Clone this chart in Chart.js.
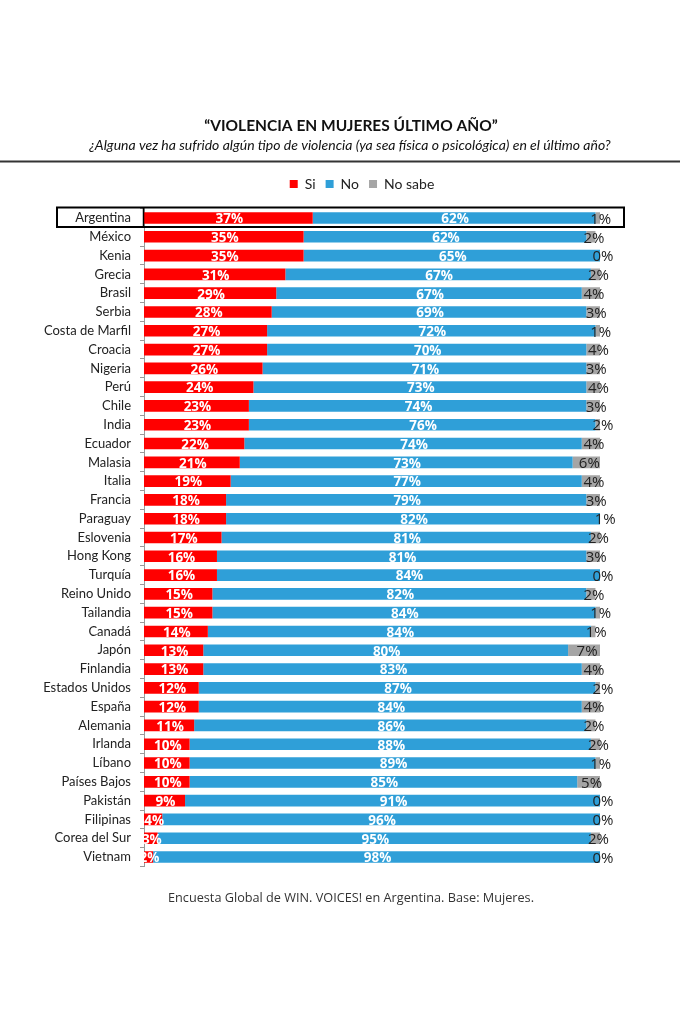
<!DOCTYPE html>
<html>
<head>
<meta charset="utf-8">
<script src="https://cdn.jsdelivr.net/npm/chart.js@4/dist/chart.umd.min.js"></script>
<style>
html,body{margin:0;padding:0;background:#fff;}
#wrap{width:680px;height:1024px;position:relative;}
</style>
</head>
<body>
<div id="wrap"><canvas id="c" width="680" height="1024"></canvas></div>
<script>
const countries = ['Argentina','México','Kenia','Grecia','Brasil','Serbia','Costa de Marfil','Croacia','Nigeria','Perú','Chile','India','Ecuador','Malasia','Italia','Francia','Paraguay','Eslovenia','Hong Kong','Turquía','Reino Unido','Tailandia','Canadá','Japón','Finlandia','Estados Unidos','España','Alemania','Irlanda','Líbano','Países Bajos','Pakistán','Filipinas','Corea del Sur','Vietnam'];
const si     = [37,35,35,31,29,28,27,27,26,24,23,23,22,21,19,18,18,17,16,16,15,15,14,13,13,12,12,11,10,10,10,9,4,3,2];
const no     = [62,62,65,67,67,69,72,70,71,73,74,76,74,73,77,79,82,81,81,84,82,84,84,80,83,87,84,86,88,89,85,91,96,95,98];
const noSabe = [1,2,0,2,4,3,1,4,3,4,3,2,4,6,4,3,1,2,3,0,2,1,1,7,4,2,4,2,2,1,5,0,0,2,0];
const seriesNames = ['Si','No','No sabe'];
const seriesColors = ['#FF0000','#2F9FD8','#A5A5A5'];
const labelColors = ['#FFFFFF','#FFFFFF','#222222'];
const titleText = '“VIOLENCIA EN MUJERES ÚLTIMO AÑO”';
const subtitleText = '¿Alguna vez ha sufrido algún tipo de violencia (ya sea física o psicológica) en el último año?';
const footnoteText = 'Encuesta Global de WIN. VOICES! en Argentina. Base: Mujeres.';
const highlighted = 'Argentina';

const seriesData = [si, no, noSabe];

const valueLabels = {
  id: 'valueLabels',
  afterDatasetsDraw(chart) {
    const ctx = chart.ctx;
    ctx.save();
    ctx.textAlign = 'center';
    ctx.textBaseline = 'middle';
    chart.data.datasets.forEach((ds, i) => {
      const meta = chart.getDatasetMeta(i);
      ctx.fillStyle = labelColors[i];
      ctx.font = i === 2 ? '15px "Open Sans"' : 'bold 13.5px "Open Sans"';
      meta.data.forEach((bar, j) => {
        const x = (bar.x + bar.base) / 2 + (i === 2 ? 3 : 1);
        ctx.fillText(ds.data[j] + '%', x, bar.y + 1.5);
      });
    });
    ctx.restore();
  }
};

const decorations = {
  id: 'decorations',
  beforeLayout(chart) {
    const lg = chart.legend;
    if (lg && !lg._patched) {
      const f = lg.fit;
      lg.fit = function () { f.call(this); this.height += 7.6; };
      lg._patched = true;
    }
  },
  afterLayout(chart) {
    const lg = chart.legend;
    if (lg) { lg.left -= 10; lg.right -= 10; }
  },
  afterDraw(chart) {
    const ctx = chart.ctx;
    const ca = chart.chartArea;
    ctx.save();
    ctx.fillStyle = '#111';
    ctx.textAlign = 'center';
    ctx.textBaseline = 'middle';
    ctx.font = 'bold 15.5px Lato';
    ctx.fillText(titleText, 351, 126);
    ctx.font = 'italic 14px Lato';
    ctx.fillText(subtitleText, 350, 145);
    ctx.strokeStyle = '#333';
    ctx.lineWidth = 2;
    ctx.beginPath();
    ctx.moveTo(0, 161.5);
    ctx.lineTo(680, 161.5);
    ctx.stroke();
    ctx.fillStyle = '#333';
    ctx.font = '12.7px "Open Sans"';
    ctx.fillText(footnoteText, 351, 898);
    const y = chart.scales.y;
    const idx = countries.indexOf(highlighted);
    const yc = y.getPixelForValue(idx);
    ctx.strokeStyle = '#000';
    ctx.lineWidth = 2;
    ctx.strokeRect(57, yc - 10.5, 567, 19.5);
    ctx.beginPath();
    ctx.moveTo(ca.left - 0.5, yc - 10.5);
    ctx.lineTo(ca.left - 0.5, yc + 9);
    ctx.lineWidth = 1.5;
    ctx.stroke();
    ctx.restore();
  }
};

new Chart(document.getElementById('c'), {
  type: 'bar',
  data: {
    labels: countries,
    datasets: seriesData.map((d, i) => ({
      label: seriesNames[i],
      data: d,
      backgroundColor: seriesColors[i],
      borderWidth: 0,
      barPercentage: 0.62,
      categoryPercentage: 1
    }))
  },
  options: {
    responsive: false,
    animation: false,
    indexAxis: 'y',
    layout: { padding: { left: 40, right: 80, top: 167, bottom: 157.6 } },
    plugins: {
      legend: {
        position: 'top',
        fullSize: false,
        labels: {
          boxWidth: 8,
          boxHeight: 8,
          padding: 10,
          color: '#222',
          font: { family: 'Lato', size: 14 }
        }
      },
      title: { display: false },
      tooltip: { enabled: false }
    },
    scales: {
      x: {
        stacked: true,
        display: false,
        min: 0,
        max: 100
      },
      y: {
        stacked: true,
        afterFit(scale) { scale.width = 104; },
        border: { display: true, color: '#9a9a9a', width: 1 },
        grid: { display: true, drawOnChartArea: false, drawTicks: true, tickLength: 4, color: '#9a9a9a', offset: true },
        ticks: {
          padding: 9,
          color: '#222',
          font: { family: 'Lato', size: 13 },
          autoSkip: false
        }
      }
    }
  },
  plugins: [valueLabels, decorations]
});
</script>
</body>
</html>
